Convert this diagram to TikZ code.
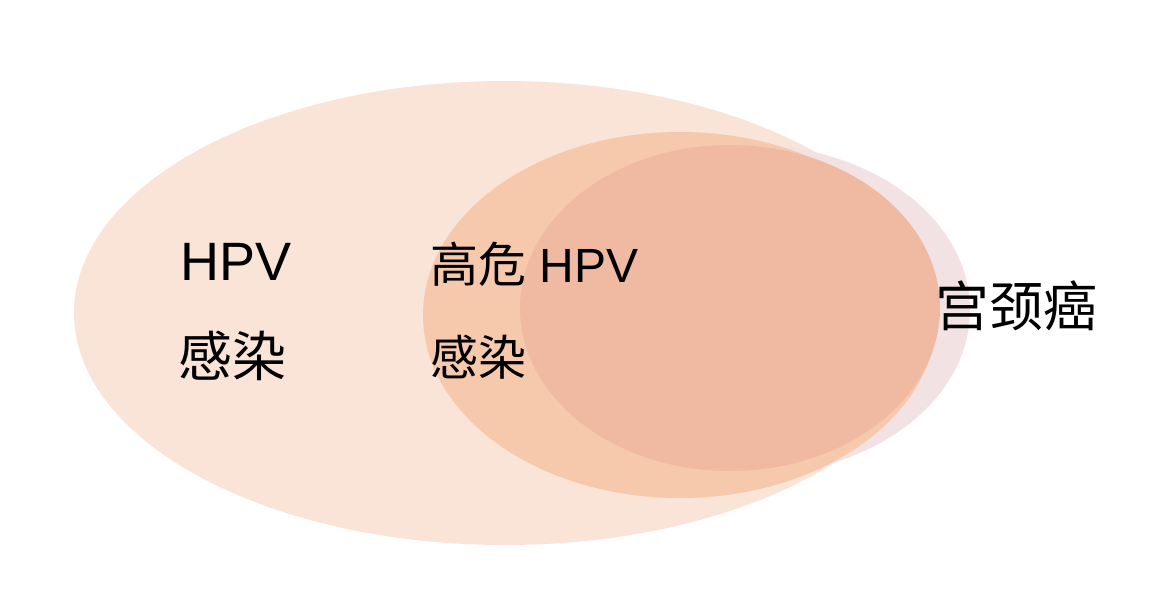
\documentclass[tikz,border=0pt]{standalone}
\usepackage{fontspec}
\setmainfont{Liberation Sans}
\newfontfamily\cjk{Noto Sans CJK SC}
\definecolor{hpvfill}{HTML}{FAE4D8}
\definecolor{riskfill}{HTML}{F6C8AC}
\definecolor{haze}{HTML}{F2E2E3}
\definecolor{cancerfill}{HTML}{EFBAA1}
\begin{document}
\begin{tikzpicture}[x=0.5pt, y=-0.5pt, every node/.style={inner sep=0pt, anchor=base west, text=black}]
		\useasboundingbox (0,0) rectangle (1152,600);
		\fill[hpvfill] (505,313) ellipse [x radius=431, y radius=232];
		\fill[haze] (750,310) ellipse [x radius=220, y radius=165];
		\fill[riskfill] (680,315) ellipse [x radius=257, y radius=183];
		\fill[cancerfill] (730,308) ellipse [x radius=210, y radius=163];
		
		\node[font=\fontsize{27}{30}\selectfont] (hpv) at (180,280) {HPV};
		\node[font=\fontsize{27}{30}\selectfont\cjk] (hpvinf) at (178,376) {感染};
		\node[font=\fontsize{24}{28}\selectfont] (risk) at (430,282) {{\cjk 高危} HPV};
		\node[font=\fontsize{24}{28}\selectfont\cjk] (riskinf) at (430,375) {感染};
		\node[font=\fontsize{27}{30}\selectfont\cjk] (cancer) at (935,326) {宫颈癌};
	\end{tikzpicture}
\end{document}
